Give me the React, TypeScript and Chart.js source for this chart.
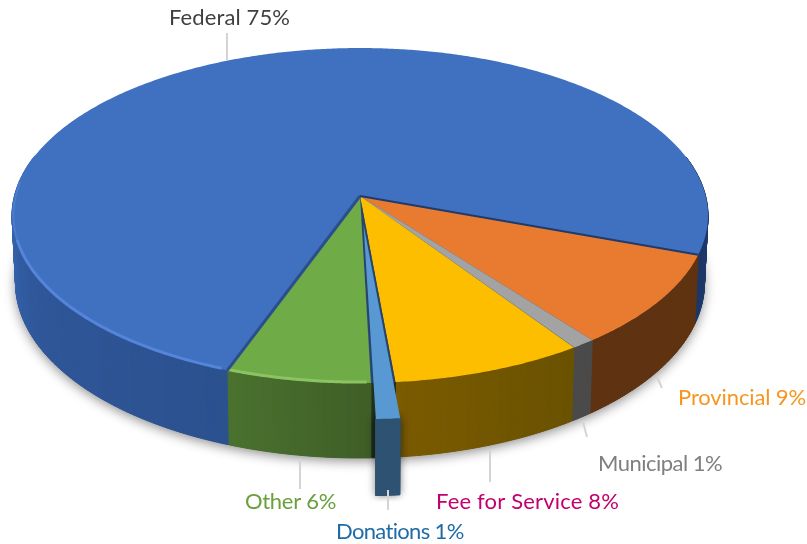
import React, { useEffect, useRef } from "react";
import { Chart, registerables } from "chart.js";

Chart.register(...registerables);

const categories = ["Federal", "Provincial", "Municipal", "Fee for Service", "Donations", "Other"];
const shares = [75, 9, 1, 8, 1, 6];

const topColors = ["#4071C0", "#E97B30", "#A3A3A3", "#FDBE00", "#5899D3", "#6FAB47"];
const wallStops: [number, string][][] = [
  [[110, "#2C518F"], [150, "#2F5799"], [185, "#3A69B6"], [200, "#3A69B6"], [340, "#1C3768"], [380, "#1C3768"]],
  [[380, "#603310"], [413, "#5F3211"]],
  [[413, "#4A4A4A"], [416, "#4A4A4A"]],
  [[416, "#6A5200"], [445, "#7B5B00"]],
  [[445, "#2D5272"], [449, "#2D5272"]],
  [[449, "#3F5F27"], [470, "#4B722E"]],
];
const labelColors = ["#404040", "#F7961E", "#7F7F7F", "#C2006E", "#1F6BA6", "#6AA03C"];
const labelPlaces: [number, number][] = [
  [169, 18], [678, 398], [598, 464], [436, 502], [336, 532], [245, 502],
];
const labelWidths = [121, 128, 124, 183, 128, 91];
const leaders: [number, number, number, number][] = [
  [227, 33, 227, 60], [657, 377, 662, 388], [583, 422, 587, 437],
  [490, 450, 490, 482], [388, 490, 388, 510], [300, 459, 300, 489],
];

const CX = 360, CY = 196, A = 345.6, B = 165.2, K = 0.1164;
const EXPLODED = 4;

const project = (u: number, v: number): [number, number] => {
  const w = 1 - K * v;
  return [CX + (A * u) / w, CY + (B * v) / w];
};
const lower = (p: [number, number], v: number): [number, number] => [
  CX + (p[0] - CX) * 0.99,
  p[1] + 66 + 9 * v,
];
const rgb = (h: string) => [1, 3, 5].map((i) => parseInt(h.slice(i, i + 2), 16));
const mix = (stops: [number, string][], deg: number) => {
  let a = stops[0], b = stops[stops.length - 1];
  for (let i = 0; i < stops.length - 1; i++) {
    if (deg >= stops[i][0] && deg <= stops[i + 1][0]) { a = stops[i]; b = stops[i + 1]; break; }
  }
  const t = b[0] === a[0] ? 0 : Math.min(1, Math.max(0, (deg - a[0]) / (b[0] - a[0])));
  const ca = rgb(a[1]), cb = rgb(b[1]);
  return `rgb(${ca.map((c, i) => Math.round(c + (cb[i] - c) * t)).join(",")})`;
};

const pie3d = {
  id: "pie3d",
  beforeDatasetsDraw(chart: any) {
    const ctx: CanvasRenderingContext2D = chart.ctx;
    const arcs = chart.getDatasetMeta(0).data;
    const step = Math.PI / 360;

    const geom = arcs.map((arc: any) => {
      const mid = (arc.startAngle + arc.endAngle) / 2;
      const e = (arc.options.offset || 0) / arc.outerRadius;
      return { start: arc.startAngle, end: arc.endAngle, dx: Math.cos(mid) * e, dy: Math.sin(mid) * e };
    });
    const ring = (g: any, dx: number, dy: number) => {
      const pts: { p: [number, number]; v: number; a: number }[] = [];
      for (let a = g.start; a < g.end + step / 2; a += step) {
        const t = Math.min(a, g.end);
        const v = Math.sin(t) + dy;
        pts.push({ p: project(Math.cos(t) + dx, v), v, a: t });
      }
      return pts;
    };
    const poly = (pts: [number, number][]) => {
      ctx.beginPath();
      pts.forEach((p, i) => (i ? ctx.lineTo(p[0], p[1]) : ctx.moveTo(p[0], p[1])));
      ctx.closePath();
    };
    const drawWall = (i: number, dx: number, dy: number, flat?: string) => {
      const pts = ring(geom[i], dx, dy);
      const quads = [];
      for (let k = 0; k < pts.length - 1; k++) {
        if (pts[k].v > -0.25) quads.push([pts[k], pts[k + 1]]);
      }
      quads.sort((a, b) => a[0].v - b[0].v);
      ctx.lineWidth = 1;
      for (const [p, q] of quads) {
        const c = flat || mix(wallStops[i], (p.a * 180) / Math.PI);
        ctx.fillStyle = c; ctx.strokeStyle = c;
        poly([p.p, q.p, lower(q.p, q.v), lower(p.p, p.v)]);
        ctx.fill(); ctx.stroke();
      }
    };
    const drawTop = (i: number, dx: number, dy: number, color: string) => {
      const pts = ring(geom[i], dx, dy);
      poly([project(dx, dy), ...pts.map((p) => p.p)]);
      ctx.fillStyle = color; ctx.fill();
    };
    const radial = (angle: number, color: string, width: number) => {
      ctx.strokeStyle = color; ctx.lineWidth = width; ctx.lineCap = "butt";
      const e = project(Math.cos(angle), Math.sin(angle));
      ctx.beginPath(); ctx.moveTo(CX, CY); ctx.lineTo(e[0], e[1]); ctx.stroke();
    };
    const rim = (from: number, to: number, color: string, width: number) => {
      ctx.strokeStyle = color; ctx.lineWidth = width; ctx.lineCap = "butt";
      ctx.beginPath();
      for (let a = from; a <= to; a += step) {
        const p = project(Math.cos(a) * 0.996, Math.sin(a) * 0.996);
        a === from ? ctx.moveTo(p[0], p[1]) : ctx.lineTo(p[0], p[1]);
      }
      ctx.stroke();
    };
    const deg = (d: number) => (d * Math.PI) / 180;

    ctx.save();
    // soft shadow under the disc
    ctx.save();
    ctx.shadowColor = "rgba(0,0,0,0.45)"; ctx.shadowBlur = 12; ctx.shadowOffsetY = 3;
    const base: [number, number][] = [];
    for (let a = 0; a < Math.PI * 2; a += step * 2) {
      const v = Math.sin(a);
      base.push(lower(project(Math.cos(a), v), v));
    }
    poly(base); ctx.fillStyle = "#2C518F"; ctx.fill();
    ctx.restore();

    geom.forEach((_: any, i: number) => {
      if (i === EXPLODED) drawWall(i, 0, 0, "#22301C"); else drawWall(i, 0, 0);
    });
    geom.forEach((_: any, i: number) => {
      drawTop(i, 0, 0, i === EXPLODED ? "#2A4468" : topColors[i]);
    });

    // rim highlights on the top face
    rim(deg(111), deg(165), "#5485DA", 3);
    rim(deg(165), deg(185), "#4A7CCB", 2);
    rim(deg(89), deg(110), "#8AC463", 3);

    // dark seams of the main slice
    radial(geom[0].start, "#2A4F8C", 3);
    radial(geom[0].end, "#1F3B6C", 2);

    // exploded slice
    const g = geom[EXPLODED];
    ctx.save();
    ctx.shadowColor = "rgba(0,0,0,0.4)"; ctx.shadowBlur = 10;
    drawWall(EXPLODED, g.dx, g.dy);
    ctx.restore();
    drawWall(EXPLODED, g.dx, g.dy);
    drawTop(EXPLODED, g.dx, g.dy, topColors[EXPLODED]);
    ctx.restore();
    return false;
  },
  afterDraw(chart: any) {
    const ctx: any = chart.ctx;
    ctx.save();
    ctx.strokeStyle = "#D4D4D4"; ctx.lineWidth = 2;
    leaders.forEach(([x1, y1, x2, y2]) => {
      ctx.beginPath(); ctx.moveTo(x1, y1); ctx.lineTo(x2, y2); ctx.stroke();
    });
    ctx.font = "22px Lato";
    ctx.textBaseline = "middle";
    ctx.textAlign = "left";
    categories.forEach((c, i) => {
      const text = `${c} ${shares[i]}%`;
      ctx.letterSpacing = "0px";
      const natural = ctx.measureText(text).width;
      ctx.letterSpacing = `${(labelWidths[i] - natural) / text.length}px`;
      ctx.fillStyle = labelColors[i];
      ctx.fillText(text, labelPlaces[i][0], labelPlaces[i][1]);
    });
    ctx.restore();
  },
};

export default function App() {
  const ref = useRef<HTMLCanvasElement>(null);
  useEffect(() => {
    document.body.style.margin = "0";
    document.body.style.background = "#fff";
    const chart = new Chart(ref.current!, {
      type: "pie",
      data: {
        labels: categories,
        datasets: [{
          data: shares,
          backgroundColor: topColors,
          borderWidth: 0,
          offset: categories.map((_, i) => (i === EXPLODED ? 42 : 0)),
        }],
      },
      options: {
        responsive: false,
        animation: false,
        rotation: 200,
        events: [],
        layout: { padding: 0 },
        plugins: { legend: { display: false }, tooltip: { enabled: false } },
      },
      plugins: [pie3d],
    } as any);
    return () => chart.destroy();
  }, []);
  return <canvas ref={ref} width={807} height={544} style={{ display: "block", filter: "blur(0.6px)" }} />;
}
